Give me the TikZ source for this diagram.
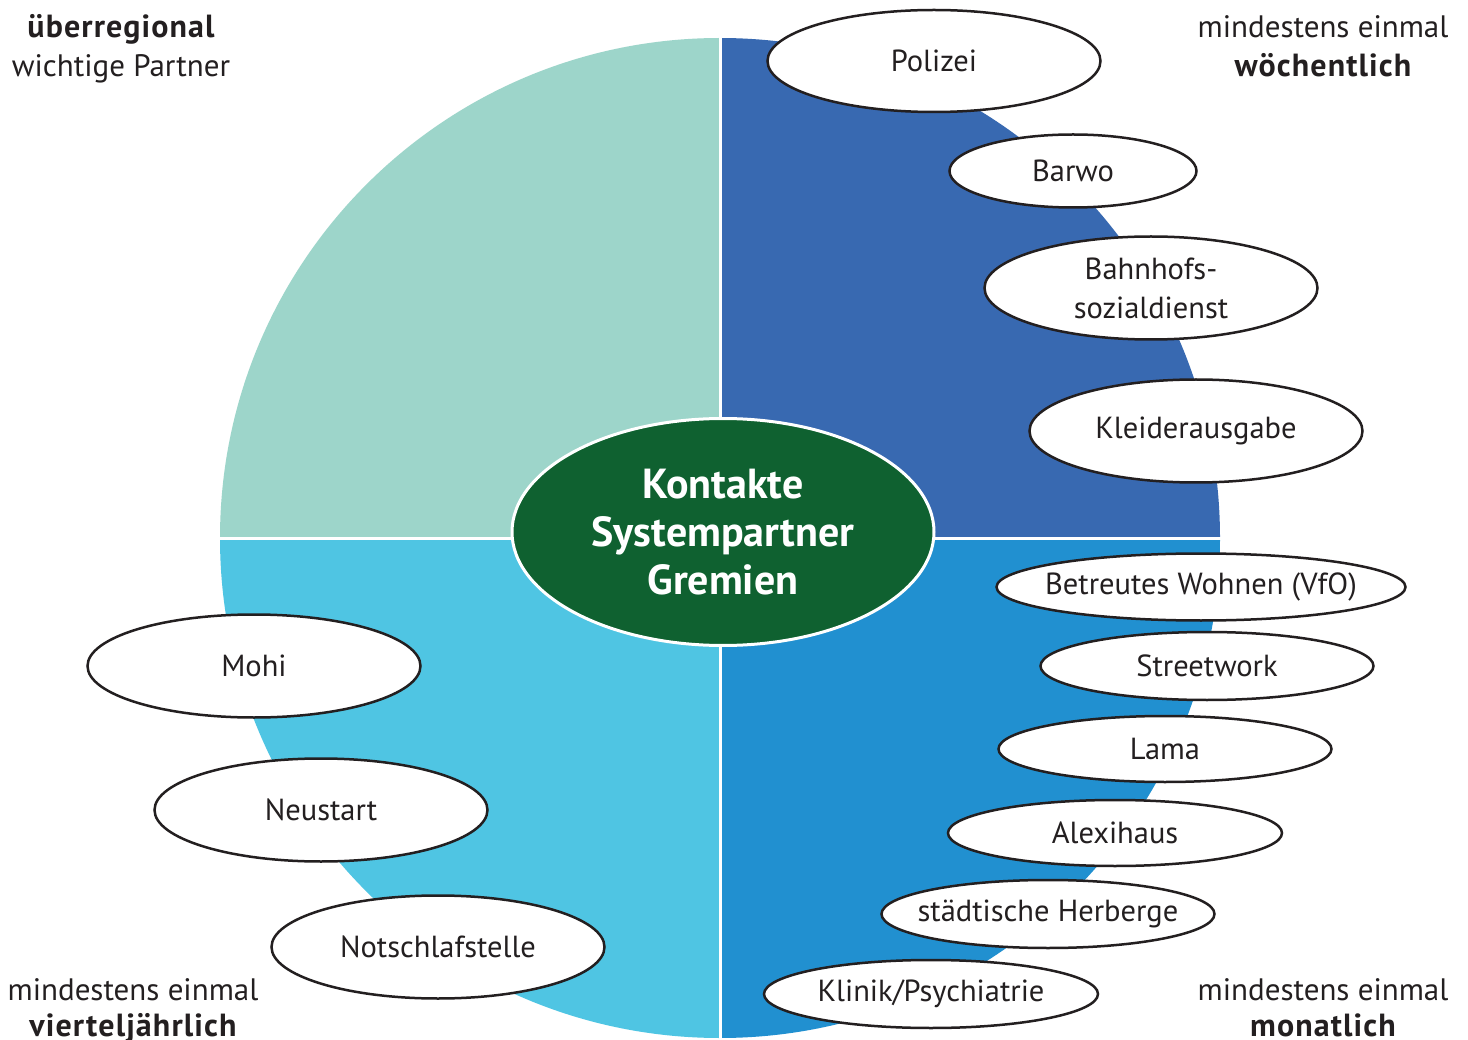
\documentclass[tikz,border=0pt]{standalone}
\usepackage{fontspec}
\setmainfont{PT Sans}
\newfontfamily\widebold[LetterSpace=3.5]{PT Sans Bold}
\usetikzlibrary{shapes.geometric}
\definecolor{qtl}{HTML}{9DD5CA}
\definecolor{qtr}{HTML}{3869B1}
\definecolor{qbr}{HTML}{2190D0}
\definecolor{qbl}{HTML}{4FC5E3}
\definecolor{cgreen}{HTML}{0F6130}
\definecolor{txt}{HTML}{231F20}
\tikzset{
  partner/.style={ellipse, draw=txt, line width=2.5pt, fill=white, inner xsep=-60pt, inner ysep=-12pt,
    text=txt, font=\fontsize{30.5}{39}\selectfont, align=center},
  corner/.style={text=txt, font=\fontsize{31}{39}\selectfont, align=center, inner sep=0pt, anchor=base},
  cornerbold/.style={corner, font=\widebold\fontsize{32}{39}\selectfont},
}
\begin{document}
\begin{tikzpicture}[x=1pt,y=-1pt]
\useasboundingbox (0,0) rectangle (1468,1040);
\fill[white] (0,0) rectangle (1468,1040);
% quadrants
\coordinate (c) at (720,538);
\begin{scope}
\clip (c) circle[radius=500];
\fill[qtr] (720,30) rectangle (1230,538);
\fill[qtl] (210,30) rectangle (720,538);
\fill[qbl] (210,538) rectangle (720,1045);
\fill[qbr] (720,538) rectangle (1230,1045);
\end{scope}
\draw[white, line width=3pt] (720,30) -- (720,1045);
\draw[white, line width=3pt] (212,538) -- (1228,538);
% centre
\node[ellipse, fill=cgreen, draw=white, line width=3pt, minimum width=422, minimum height=227,
  inner xsep=-40pt, inner ysep=-15pt, text=white, align=center, font=\bfseries\fontsize{42}{48}\selectfont]
  (center) at (723,532) {Kontakte\\Systempartner\\Gremien};
% partners
\node[partner, minimum width=333, minimum height=102] (polizei) at (934,61) {Polizei};
\node[partner, minimum width=247, minimum height=73] (barwo) at (1073,171) {Barwo};
\node[partner, minimum width=333, minimum height=103] (bahnhof) at (1151,288) {Bahnhofs-\\sozialdienst};
\node[partner, minimum width=333, minimum height=103] (kleider) at (1196,431) {Kleiderausgabe};
\node[partner, minimum width=409, minimum height=67] (betreut) at (1201,587) {Betreutes Wohnen (VfO)};
\node[partner, minimum width=333, minimum height=68] (street) at (1207,666) {Streetwork};
\node[partner, minimum width=333, minimum height=66] (lama) at (1165,749) {Lama};
\node[partner, minimum width=334, minimum height=66] (alexi) at (1115,833) {Alexihaus};
\node[partner, minimum width=333, minimum height=68] (herberge) at (1048,914) {städtische Herberge};
\node[partner, minimum width=334, minimum height=68] (klinik) at (931,994) {Klinik/Psychiatrie};
\node[partner, minimum width=333, minimum height=103] (mohi) at (254,666) {Mohi};
\node[partner, minimum width=333, minimum height=103] (neustart) at (321,810) {Neustart};
\node[partner, minimum width=333, minimum height=103] (notschlaf) at (438,947) {Notschlafstelle};
% corner labels
\node[cornerbold] (tl1) at (121,38) {überregional};
\node[corner] (tl2) at (121,77) {wichtige Partner};
\node[corner] (tr1) at (1323,38) {mindestens einmal};
\node[cornerbold] (tr2) at (1323,77) {wöchentlich};
\node[corner] (bl1) at (133,1000) {mindestens einmal};
\node[cornerbold] (bl2) at (133,1036) {vierteljährlich};
\node[corner] (br1) at (1323,1000) {mindestens einmal};
\node[cornerbold] (br2) at (1323,1036) {monatlich};
\end{tikzpicture}
\end{document}
